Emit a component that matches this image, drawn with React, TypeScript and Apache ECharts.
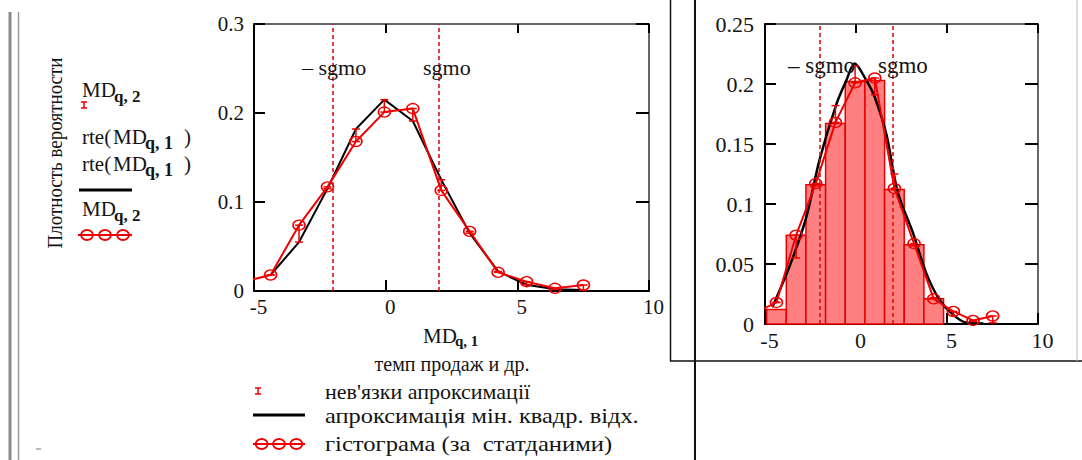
import React, { useEffect, useRef } from "react";
import * as echarts from "echarts";

// ---- data ----
const binCenters = [-5.45, -4.37, -3.29, -2.21, -1.13, -0.05, 1.03, 2.11, 3.19, 4.27, 5.35, 6.43, 7.51];
const histValues = [0.01, 0.018, 0.074, 0.117, 0.168, 0.201, 0.205, 0.113, 0.067, 0.021, 0.0105, 0.003, 0.0067];
const approxX = [-4.37, -3.29, -2.21, -1.13, -0.05, 1.03, 2.11, 3.19, 4.27, 5.35, 6.43, 7.51];
const approxValues = [0.018, 0.055, 0.115, 0.182, 0.215, 0.191, 0.125, 0.065, 0.022, 0.007, 0.002, 0.001];
const barCenters = [-4.37, -3.29, -2.21, -1.13, -0.05, 1.03, 2.11, 3.19, 4.27];
const barValues = [0.012, 0.074, 0.116, 0.167, 0.202, 0.203, 0.112, 0.066, 0.021];
const binWidth = 1.08;
const curveX = [-4.6, -3.65, -2.73, -2.0, -1.08, -0.53, -0.08, 0.57, 1.03, 1.67, 2.31, 3.13, 3.87, 4.6, 5.4, 6.1, 7.0];
const curveY = [0.014, 0.048, 0.089, 0.137, 0.183, 0.203, 0.217, 0.203, 0.189, 0.158, 0.109, 0.076, 0.042, 0.02, 0.007, 0.001, 0.0005];
const sgmo = 2.0;
const xTicks = { min: -5, max: 10, interval: 5 };
const yLeftTicks = { min: 0, max: 0.3, interval: 0.1 };
const yRightTicks = { min: 0, max: 0.25, interval: 0.05 };

const FONT = "Liberation Serif";
const RED = "#f00000";
const TXT = "#141414";

const fmt = (v: number) => (Math.abs(v) < 1e-9 ? "0" : String(+v.toFixed(2)));

function makeAxes(gridIndex: number, rng: any, yr: any, fontSize: number, yMargin: number) {
  const tick = { show: true, inside: true, length: 11, lineStyle: { color: "#000", width: 2 } };
  const xs = [
    {
      type: "value", gridIndex, position: "bottom", min: rng.min, max: rng.max, interval: rng.interval,
      axisLine: { show: true, onZero: false, lineStyle: { color: "#000", width: 2 } },
      axisTick: tick, splitLine: { show: false },
      axisLabel: { show: true, fontFamily: FONT, fontSize, color: TXT, margin: 5, padding: [0, 0, 0, 9], formatter: fmt },
    },
    {
      type: "value", gridIndex, position: "top", min: rng.min, max: rng.max, interval: rng.interval,
      axisLine: { show: true, onZero: false, lineStyle: { color: "#333", width: 1.5 } },
      axisTick: { ...tick, length: 9 }, splitLine: { show: false }, axisLabel: { show: false },
    },
  ];
  const ys = [
    {
      type: "value", gridIndex, position: "left", min: yr.min, max: yr.max, interval: yr.interval,
      axisLine: { show: true, onZero: false, lineStyle: { color: "#000", width: 2 } },
      axisTick: tick, splitLine: { show: false },
      axisLabel: { show: true, fontFamily: FONT, fontSize, color: TXT, margin: yMargin, formatter: fmt },
    },
    {
      type: "value", gridIndex, position: "right", min: yr.min, max: yr.max, interval: yr.interval,
      axisLine: { show: true, onZero: false, lineStyle: { color: "#333", width: 1.5 } },
      axisTick: { ...tick, length: 13 }, splitLine: { show: false }, axisLabel: { show: false },
    },
  ];
  return { xs, ys };
}

const residualData = approxX.map((x, i) => {
  const h = histValues[binCenters.indexOf(x)];
  return [x, h, approxValues[i]];
});

function residualSeries(xi: number, yi: number) {
  return {
    type: "custom", xAxisIndex: xi, yAxisIndex: yi, z: 5, clip: true,
    data: residualData,
    renderItem: (params: any, api: any) => {
      const x = api.value(0);
      const p1 = api.coord([x, api.value(1)]);
      const p2 = api.coord([x, api.value(2)]);
      const st = { stroke: RED, lineWidth: 1.5 };
      return {
        type: "group",
        children: [
          { type: "line", shape: { x1: p1[0], y1: p1[1], x2: p2[0], y2: p2[1] }, style: st },
          { type: "line", shape: { x1: p1[0] - 4, y1: p1[1], x2: p1[0] + 4, y2: p1[1] }, style: st },
          { type: "line", shape: { x1: p2[0] - 4, y1: p2[1], x2: p2[0] + 4, y2: p2[1] }, style: st },
        ],
      };
    },
  };
}

function histSeries(xi: number, yi: number) {
  return {
    type: "line", xAxisIndex: xi, yAxisIndex: yi, z: 4, clip: true,
    data: binCenters.map((x, i) => [x, histValues[i]]),
    lineStyle: { color: RED, width: 2 },
    symbol: "circle", symbolSize: [12, 10],
    itemStyle: { color: "rgba(255,255,255,0)", borderColor: RED, borderWidth: 1.5 },
    markLine: {
      silent: true, symbol: ["none", "none"], label: { show: false },
      lineStyle: { color: "#e01010", type: [4, 3], width: 1.6 },
      data: [{ xAxis: -sgmo }, { xAxis: sgmo }],
    },
  };
}

function txt(x: number, y: number, text: string, size: number, extra: any = {}) {
  return {
    type: "text", x, y, z: 20, rotation: extra.rotation || 0,
    scaleX: extra.scaleX || 1, scaleY: extra.scaleY || 1,
    style: {
      text, fontSize: size, fontFamily: FONT, fontWeight: extra.bold ? "bold" : "normal", fill: extra.fill || TXT,
      textAlign: extra.align || "left", align: extra.align || "left",
      textVerticalAlign: "middle", verticalAlign: "middle",
    },
  };
}

function mdLabel(x: number, y: number, sub: string, subSize = 17) {
  return [txt(x, y, "MD", 21), txt(x + 32, y + 6, sub, subSize, { bold: true })];
}

function errIcon(cx: number, cy: number) {
  const st = { stroke: RED, lineWidth: 1.5 };
  return [
    { type: "line", z: 20, shape: { x1: cx, y1: cy - 3, x2: cx, y2: cy + 3 }, style: st },
    { type: "line", z: 20, shape: { x1: cx - 3, y1: cy - 3, x2: cx + 3, y2: cy - 3 }, style: st },
    { type: "line", z: 20, shape: { x1: cx - 3, y1: cy + 3, x2: cx + 3, y2: cy + 3 }, style: st },
  ];
}

function circIcon(x1: number, x2: number, y: number) {
  const step = (x2 - x1) / 3;
  const els: any[] = [{ type: "line", z: 20, shape: { x1, y1: y, x2, y2: y }, style: { stroke: RED, lineWidth: 2 } }];
  for (let k = 0; k < 3; k++) {
    els.push({ type: "ellipse", z: 20, shape: { cx: x1 + step * (k + 0.5), cy: y, rx: 6, ry: 5 }, style: { fill: "none", stroke: RED, lineWidth: 1.8 } });
  }
  return els;
}

function vline(x: number, y1: number, y2: number, color: string, w: number) {
  return { type: "line", z: 20, shape: { x1: x, y1, x2: x, y2 }, style: { stroke: color, lineWidth: w } };
}

export default function App() {
  const ref = useRef<HTMLDivElement>(null);
  useEffect(() => {
    if (!ref.current) return;
    const chart = echarts.init(ref.current, null, { renderer: "svg" });
    const a = makeAxes(0, xTicks, yLeftTicks, 21, 10);
    const b = makeAxes(1, xTicks, yRightTicks, 22, 11);

    const graphic: any[] = [
      // frame lines
      vline(10, 12, 460, "#8a8a8a", 3),
      vline(18.5, 12, 460, "#9a9a9a", 1.5),
      vline(670.5, 0, 361, "#111", 1.5),
      vline(695, 0, 460, "#111", 2),
      { type: "line", z: 20, shape: { x1: 670, y1: 361, x2: 1082, y2: 361 }, style: { stroke: "#111", lineWidth: 1.5 } },
      vline(1077, 0, 361, "#bbb", 1),
      { type: "line", z: 20, shape: { x1: 36, y1: 449, x2: 41, y2: 449 }, style: { stroke: "#777", lineWidth: 1 } },
      // y title
      txt(55, 153, "Плотность вероятности", 19, { rotation: Math.PI / 2, align: "center", scaleY: 1.15 }),
      // y-side legend (Mathcad trace names)
      ...mdLabel(82, 90, "q, 2"),
      ...errIcon(84, 105),
      txt(82, 137, "rte(", 21),
      ...mdLabel(113, 137, "q, 1", 18),
      txt(184, 137, ")", 21),
      txt(82, 164, "rte(", 21),
      ...mdLabel(113, 164, "q, 1", 18),
      txt(184, 164, ")", 21),
      { type: "line", z: 20, shape: { x1: 79, y1: 190, x2: 132, y2: 190 }, style: { stroke: "#000", lineWidth: 3 } },
      ...mdLabel(82, 209, "q, 2"),
      ...circIcon(78, 132, 235),
      // sgmo labels
      txt(302, 67, "– sgmo", 22),
      txt(423, 67, "sgmo", 22),
      txt(788, 65, "– sgmo", 23),
      txt(878, 65, "sgmo", 23),
      // x title + legend
      txt(423, 336, "MD", 21),
      txt(455, 341, "q, 1", 15, { bold: true }),
      txt(452, 364, "темп продаж и др.", 20, { align: "center" }),
      ...errIcon(258, 391),
      txt(325, 391, "нев'язки апроксимації", 22),
      { type: "line", z: 20, shape: { x1: 253, y1: 415, x2: 305, y2: 415 }, style: { stroke: "#000", lineWidth: 3 } },
      txt(325, 415, "апроксимація мін. квадр. відх.", 22, { scaleX: 1.11 }),
      ...circIcon(253, 305, 444),
      txt(325, 443, "гістограма (за  статданими)", 22, { scaleX: 1.12 }),
    ];

    chart.setOption({
      animation: false,
      backgroundColor: "#fff",
      grid: [
        { left: 254, top: 24, width: 395, height: 267, show: false },
        { left: 765, top: 24, width: 273, height: 300, show: false },
      ],
      xAxis: [...a.xs, ...b.xs],
      yAxis: [...a.ys, ...b.ys],
      graphic,
      series: [
        // left chart
        {
          type: "line", xAxisIndex: 0, yAxisIndex: 0, z: 3, symbol: "none",
          data: approxX.map((x, i) => [x, approxValues[i]]),
          lineStyle: { color: "#000", width: 2 },
        },
        histSeries(0, 0),
        residualSeries(0, 0),
        // right chart
        {
          type: "custom", xAxisIndex: 2, yAxisIndex: 2, z: 1,
          data: barCenters.map((x, i) => [x, barValues[i]]),
          renderItem: (params: any, api: any) => {
            const x = api.value(0);
            const lt = api.coord([Math.max(x - binWidth / 2, -5), api.value(1)]);
            const rb = api.coord([x + binWidth / 2, 0]);
            return {
              type: "rect",
              shape: { x: lt[0], y: lt[1], width: rb[0] - lt[0], height: rb[1] - lt[1] },
              style: { fill: "#ff8080", stroke: "#e80000", lineWidth: 1.5 },
            };
          },
        },
        {
          type: "line", xAxisIndex: 2, yAxisIndex: 2, z: 3, symbol: "none", smooth: 0.3,
          data: curveX.map((x, i) => [x, curveY[i]]),
          lineStyle: { color: "#000", width: 2.5 },
        },
        histSeries(2, 2),
        residualSeries(2, 2),
      ],
    });
    return () => chart.dispose();
  }, []);
  return <div ref={ref} style={{ position: "absolute", left: 0, top: 0, width: 1082, height: 460 }} />;
}
